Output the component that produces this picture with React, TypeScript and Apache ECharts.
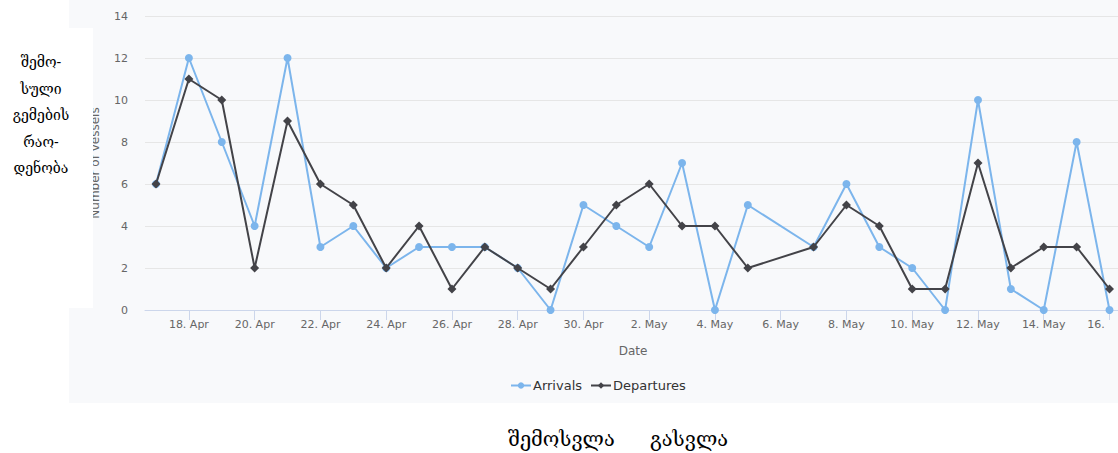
import React, { useEffect, useRef } from "react";
import * as echarts from "echarts";

const dates = [
  "2019-04-17", "2019-04-18", "2019-04-19", "2019-04-20", "2019-04-21", "2019-04-22",
  "2019-04-23", "2019-04-24", "2019-04-25", "2019-04-26", "2019-04-27", "2019-04-28",
  "2019-04-29", "2019-04-30", "2019-05-01", "2019-05-02", "2019-05-03", "2019-05-04",
  "2019-05-05", "2019-05-07", "2019-05-08", "2019-05-09", "2019-05-10", "2019-05-11",
  "2019-05-12", "2019-05-13", "2019-05-14", "2019-05-15", "2019-05-16",
];
const arrivals = [6, 12, 8, 4, 12, 3, 4, 2, 3, 3, 3, 2, 0, 5, 4, 3, 7, 0, 5, 3, 6, 3, 2, 0, 10, 1, 0, 8, 0];
const departures = [6, 11, 10, 2, 9, 6, 5, 2, 4, 1, 3, 2, 1, 3, 5, 6, 4, 4, 2, 3, 5, 4, 1, 1, 7, 2, 3, 3, 1];

const tickDates = [
  "2019-04-18", "2019-04-20", "2019-04-22", "2019-04-24", "2019-04-26", "2019-04-28",
  "2019-04-30", "2019-05-02", "2019-05-04", "2019-05-06", "2019-05-08", "2019-05-10",
  "2019-05-12", "2019-05-14", "2019-05-16",
];
const tickLabels = [
  "18. Apr", "20. Apr", "22. Apr", "24. Apr", "26. Apr", "28. Apr", "30. Apr",
  "2. May", "4. May", "6. May", "8. May", "10. May", "12. May", "14. May", "16.",
];
const yTicks = [0, 2, 4, 6, 8, 10, 12, 14];

const sideLines = ["შემო-", "სული", "გემების", "რაო-", "დენობა"];
const bottomLeft = "შემოსვლა";
const bottomRight = "გასვლა";

const BASE = Date.UTC(2019, 3, 17);
const dayOf = (s: string) => {
  const [y, m, d] = s.split("-").map(Number);
  return Math.round((Date.UTC(y, m - 1, d) - BASE) / 86400000);
};

const CHART_W = 1170;

export default function App() {
  const ref = useRef<HTMLDivElement>(null);
  useEffect(() => {
    if (!ref.current) return;
    const chart = echarts.init(ref.current, undefined, { renderer: "svg" });
    const tickVals = tickDates.map(dayOf);
    const labelMap: Record<number, string> = {};
    tickVals.forEach((v, i) => (labelMap[v] = tickLabels[i]));
    const lastTick = tickVals[tickVals.length - 1];
    const font = "'DejaVu Sans', sans-serif";
    const geo = "'DejaVu Serif', serif";
    chart.setOption({
      animation: false,
      backgroundColor: "transparent",
      grid: { left: 145, top: 16, right: CHART_W - 1121, bottom: 143, containLabel: false },
      xAxis: {
        type: "value",
        min: -0.335,
        max: 29.35,
        name: "Date",
        nameLocation: "middle",
        nameGap: 35,
        nameTextStyle: { color: "#666666", fontSize: 12, fontFamily: font },
        axisLine: { show: true, lineStyle: { color: "#ccd6eb", width: 1 } },
        axisTick: { show: true, customValues: tickVals, length: 10, lineStyle: { color: "#ccd6eb" } },
        axisLabel: {
          customValues: tickVals,
          formatter: (v: number) => {
            const k = Math.round(v);
            const s = labelMap[k] ?? "";
            return k === lastTick ? `{last|${s}}` : s;
          },
          rich: {
            last: { color: "#666666", fontSize: 11, fontFamily: font, padding: [0, 27, 0, 0] },
          },
          color: "#666666",
          fontSize: 11,
          fontFamily: font,
          margin: 9,
        },
        splitLine: { show: false },
      },
      yAxis: {
        type: "value",
        min: 0,
        max: 14,
        interval: 2,
        name: "Number of vessels",
        nameLocation: "middle",
        nameGap: 44,
        nameTextStyle: { color: "#666666", fontSize: 12, fontFamily: font },
        axisLine: { show: false },
        axisTick: { show: false },
        axisLabel: {
          color: "#666666",
          fontSize: 11,
          fontFamily: font,
          margin: 17,
          formatter: (v: number) => (yTicks.includes(v) ? String(v) : ""),
        },
        splitLine: { show: true, lineStyle: { color: "#e6e6e6", width: 1 } },
      },
      legend: {
        left: 505,
        top: 374,
        itemWidth: 20,
        itemHeight: 8,
        itemGap: 8,
        textStyle: { color: "#333333", fontSize: 13, fontFamily: font, padding: [0, 0, 0, -3] },
        data: ["Arrivals", "Departures"],
      },
      series: [
        {
          name: "Arrivals",
          type: "line",
          data: dates.map((d, i) => [dayOf(d), arrivals[i]]),
          symbol: "circle",
          symbolSize: 8,
          lineStyle: { color: "#7cb5ec", width: 2 },
          itemStyle: { color: "#7cb5ec" },
          z: 3,
        },
        {
          name: "Departures",
          type: "line",
          data: dates.map((d, i) => [dayOf(d), departures[i]]),
          symbol: "diamond",
          symbolSize: 9,
          lineStyle: { color: "#434348", width: 2 },
          itemStyle: { color: "#434348" },
          z: 4,
        },
      ],
      graphic: [
        {
          type: "rect",
          z: 100,
          shape: { x: 0, y: 28, width: 93, height: 280 },
          style: { fill: "#ffffff" },
        },
        ...sideLines.map((t, i) => ({
          type: "text",
          z: 101,
          x: 41,
          y: 62 + i * 26.5,
          style: {
            text: t,
            fill: "#000000",
            font: `14px ${geo}`,
            textAlign: "center",
            textVerticalAlign: "middle",
          },
        })),
        {
          type: "text",
          z: 101,
          x: 508,
          y: 439,
          style: { text: bottomLeft, fill: "#000000", font: `20px ${geo}`, textAlign: "left", textVerticalAlign: "middle" },
        },
        {
          type: "text",
          z: 101,
          x: 650,
          y: 439,
          style: { text: bottomRight, fill: "#000000", font: `20px ${geo}`, textAlign: "left", textVerticalAlign: "middle" },
        },
      ],
    });
    return () => chart.dispose();
  }, []);
  return (
    <div style={{ position: "absolute", left: 0, top: 0, width: 1118, height: 453, background: "#ffffff", overflow: "hidden" }}>
      <div style={{ position: "absolute", left: 69, top: 0, width: 1049, height: 403, background: "#f8f9fb" }} />
      <div ref={ref} style={{ position: "absolute", left: 0, top: 0, width: CHART_W, height: 453 }} />
    </div>
  );
}
